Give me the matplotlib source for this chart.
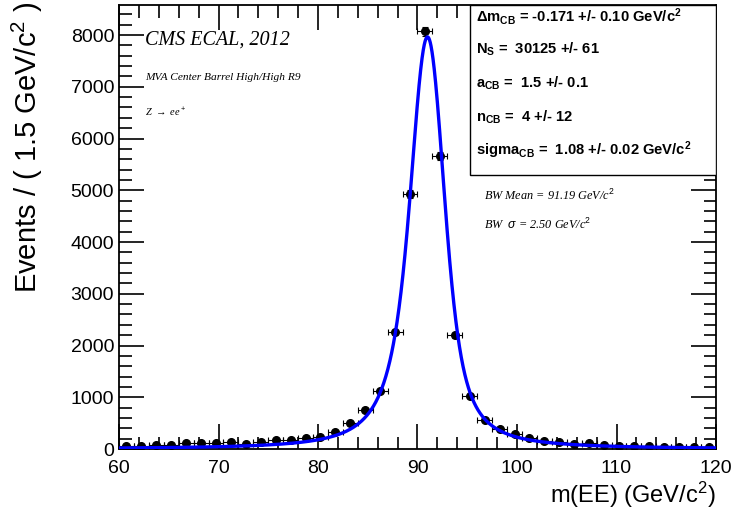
import numpy as np
import matplotlib
matplotlib.use("Agg")
import matplotlib.pyplot as plt
from matplotlib.patches import Rectangle
from matplotlib.ticker import MultipleLocator

# ---- data ----
bin_centers = [60.75 + 1.5 * i for i in range(40)]
counts = [58, 64, 71, 83, 110, 110, 110, 128, 102, 135,
          167, 167, 206, 237, 333, 500, 757, 1123, 2254, 4927,
          8073, 5665, 2197, 1027, 559, 392, 283, 206, 160, 128,
          102, 110, 77, 64, 52, 58, 45, 45, 38, 40]
bin_width = 1.5

# fit parameters (shown on the chart)
bw_mean, bw_width = 91.19, 2.50
cb_dm, cb_sigma, cb_alpha, cb_n = -0.171, 1.08, 1.5, 4.0
n_signal = 30125

x_ticks = [60, 70, 80, 90, 100, 110, 120]
y_ticks = [0, 1000, 2000, 3000, 4000, 5000, 6000, 7000, 8000]

stat_lines = [
    r"$\mathbf{\Delta m_{CB}}$ = -0.171 +/- 0.10 GeV/c$^{\mathbf{2}}$",
    r"N$_{\mathbf{S}}$ =  30125 +/- 61",
    r"a$_{\mathbf{CB}}$ =  1.5 +/- 0.1",
    r"n$_{\mathbf{CB}}$ =  4 +/- 12",
    r"sigma$_{\mathbf{CB}}$ =  1.08 +/- 0.02 GeV/c$^{\mathbf{2}}$",
]

# ---- fit model: BW (x) CB ----
def crystal_ball(t, mu, s, a, n):
    z = (t - mu) / s
    A = (n / abs(a)) ** n * np.exp(-0.5 * a * a)
    B = n / abs(a) - abs(a)
    out = np.empty_like(z)
    core = z > -a
    out[core] = np.exp(-0.5 * z[core] ** 2)
    out[~core] = A * (B - z[~core]) ** (-n)
    return out

xs = np.linspace(60, 120, 3001)
dx = xs[1] - xs[0]
kt = np.arange(-30, 30 + dx / 2, dx)
half = len(kt) // 2
xs_ext = np.concatenate([xs[0] - dx * np.arange(half, 0, -1), xs, xs[-1] + dx * np.arange(1, half + 1)])
bw_ext = 1.0 / ((xs_ext - bw_mean) ** 2 + 0.25 * bw_width ** 2)
cb = crystal_ball(kt, cb_dm, cb_sigma, cb_alpha, cb_n)
conv = np.convolve(bw_ext, cb, mode="valid")[:len(xs)]
pdf = conv / (np.sum(conv) * dx)
curve = pdf * n_signal * bin_width

# ---- plot ----
plt.rcParams["font.family"] = ["Liberation Sans", "DejaVu Sans"]
plt.rcParams["mathtext.fontset"] = "custom"
plt.rcParams["mathtext.rm"] = "Liberation Sans"
plt.rcParams["mathtext.bf"] = "Liberation Sans:bold"
plt.rcParams["mathtext.it"] = "Liberation Sans:italic"

fig = plt.figure(figsize=(7.4, 5.21), dpi=100)
ax = fig.add_axes([119 / 740, 1 - 449 / 521, 597 / 740, 444 / 521])

counts_a = np.array(counts, dtype=float)
ax.errorbar(bin_centers, counts_a, xerr=bin_width / 2, yerr=np.sqrt(counts_a),
            fmt="o", color="black", ms=5.5, elinewidth=0.8, capsize=2, capthick=0.8, zorder=3)
ax.plot(xs, curve, color="#0000ff", lw=2.4, zorder=4)

ax.set_xlim(60, 120)
ax.set_ylim(0, 8580)
ax.set_xticks(x_ticks)
ax.set_yticks(y_ticks)
ax.xaxis.set_minor_locator(MultipleLocator(2))
ax.yaxis.set_minor_locator(MultipleLocator(200))
ax.tick_params(which="both", direction="in", top=True, right=True, labelsize=14, width=1.2)
ax.tick_params(which="major", length=18)
ax.tick_params(which="minor", length=9)
ax.tick_params(axis="x", pad=8)
for sp in ax.spines.values():
    sp.set_linewidth(1.3)

fig.text(0.037, 0.997, r"Events / ( 1.5 GeV/c$^2$ )", rotation=90, ha="center", va="top", fontsize=21)
fig.text(716 / 740, 1 - 495 / 521, r"m(EE) (GeV/c$^2$)", ha="right", va="center", fontsize=17)

serif = ["Liberation Serif", "DejaVu Serif"]
def axpos(px, py):
    return ((px - 119) / 597, (449 - py) / 444)

ax.text(*axpos(145, 40), "CMS ECAL, 2012", transform=ax.transAxes, family=serif, style="italic",
        fontsize=14.5, va="center")
ax.text(*axpos(145, 78), "MVA Center Barrel High/High R9", transform=ax.transAxes, family=serif,
        style="italic", fontsize=8.2, va="center")
ax.text(*axpos(145, 112), r"Z $\rightarrow$ ee$^+$", transform=ax.transAxes, family=serif,
        style="italic", fontsize=7.5, va="center")

ax.text(*axpos(484, 195), r"BW Mean = 91.19 GeV/c$^2$", transform=ax.transAxes,
        family=serif, style="italic", fontsize=8.8, va="center")
ax.text(*axpos(484, 224), r"BW  $\sigma$ = 2.50 GeV/c$^2$", transform=ax.transAxes,
        family=serif, style="italic", fontsize=8.8, va="center")

bx0, by0 = axpos(470, 175)
ax.add_patch(Rectangle((bx0, by0), 1 - bx0, 1 - by0, transform=ax.transAxes, facecolor="white",
                       edgecolor="black", lw=1.0, zorder=5))
ys = [16, 49, 83, 117, 150]
for s, yy in zip(stat_lines, ys):
    ax.text(*axpos(476, yy), s, transform=ax.transAxes, fontsize=10.6,
            fontweight="bold", va="center", ha="left", zorder=6)

fig.savefig("out.png", dpi=100)
